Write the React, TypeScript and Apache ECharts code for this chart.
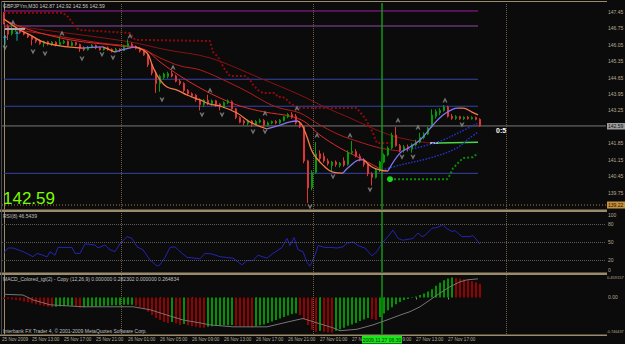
import React, { useEffect, useRef } from "react";
import * as echarts from "echarts";

// ---------------- data ----------------
const SLOT_COUNT = 151; // bar slots on the time axis (120 bars + empty right margin)
const LAST_BAR = 118.5;

// [open, close, low, high] — GBPJPYm M30
const candles: number[][] = [
  [147.38, 146.98, 146.92, 147.45], [146.85, 146.50, 146.25, 146.92], [146.52, 146.70, 146.45, 146.88], [146.68, 146.76, 146.60, 146.82],
  [146.75, 146.58, 146.52, 146.78], [146.60, 146.50, 146.45, 146.66], [146.50, 146.38, 146.33, 146.55], [146.40, 146.28, 146.02, 146.45],
  [146.28, 146.20, 146.12, 146.33], [146.22, 146.10, 146.05, 146.28], [146.10, 146.18, 145.95, 146.22], [146.18, 146.08, 146.02, 146.22],
  [146.06, 146.16, 146.00, 146.20], [146.16, 146.05, 145.98, 146.20], [146.05, 146.15, 146.00, 146.38], [146.14, 146.20, 146.08, 146.26],
  [146.20, 146.02, 145.96, 146.24], [146.02, 146.14, 145.98, 146.20], [146.14, 146.06, 146.00, 146.18], [146.06, 145.90, 145.75, 146.10],
  [145.92, 145.84, 145.78, 145.98], [145.84, 145.95, 145.80, 146.00], [145.95, 146.02, 145.90, 146.08], [146.02, 145.92, 145.86, 146.06],
  [145.92, 145.84, 145.80, 145.97], [145.84, 145.92, 145.80, 145.96], [145.92, 145.85, 145.80, 145.98], [145.85, 145.78, 145.72, 145.90],
  [145.78, 145.86, 145.74, 145.92], [145.86, 145.80, 145.74, 145.90], [145.80, 145.98, 145.78, 146.05], [145.98, 146.10, 145.94, 146.28],
  [146.08, 145.98, 145.92, 146.15], [145.98, 145.90, 145.85, 146.02], [145.90, 145.78, 145.72, 145.95], [145.78, 145.62, 145.58, 145.82],
  [145.62, 145.20, 145.10, 145.66], [145.20, 144.85, 144.75, 145.25], [144.85, 144.40, 144.00, 144.95], [144.40, 144.70, 144.05, 144.78],
  [144.66, 144.80, 144.58, 144.86], [144.70, 144.82, 144.62, 144.90], [144.82, 144.72, 144.66, 144.95], [144.72, 144.50, 144.45, 144.78],
  [144.50, 144.40, 144.32, 144.58], [144.40, 144.10, 144.02, 144.45], [144.10, 143.96, 143.88, 144.16], [143.96, 143.88, 143.80, 144.02],
  [143.90, 143.70, 143.62, 143.95], [143.70, 143.50, 143.25, 143.76], [143.50, 143.68, 143.40, 143.74], [143.68, 143.55, 143.48, 143.92],
  [143.55, 143.66, 143.45, 143.72], [143.66, 143.52, 143.40, 143.70], [143.52, 143.40, 143.25, 143.56], [143.40, 143.58, 143.35, 143.64],
  [143.58, 143.66, 143.52, 143.72], [143.62, 143.32, 143.28, 143.68], [143.32, 142.95, 142.88, 143.36], [142.95, 142.75, 142.70, 143.00],
  [142.80, 142.72, 142.62, 142.86], [142.70, 142.80, 142.60, 142.86], [142.80, 142.66, 142.55, 142.84], [142.66, 142.78, 142.60, 142.84],
  [142.76, 142.82, 142.70, 142.90], [142.82, 142.62, 142.55, 142.88], [142.62, 142.72, 142.56, 142.78], [142.72, 142.78, 142.66, 142.82],
  [142.78, 142.72, 142.66, 142.84], [142.72, 142.84, 142.68, 142.88], [142.82, 142.98, 142.78, 143.02], [142.98, 143.08, 142.92, 143.14],
  [143.08, 142.96, 142.90, 143.18], [143.00, 142.72, 142.65, 143.10], [142.72, 142.55, 142.50, 142.80], [142.55, 141.10, 141.00, 142.60],
  [141.10, 139.95, 139.30, 141.15], [139.95, 140.60, 139.85, 140.70], [140.60, 141.40, 140.55, 141.90], [141.40, 141.20, 141.10, 141.55],
  [141.30, 141.10, 141.02, 141.45], [141.10, 140.98, 140.90, 141.20], [140.90, 141.05, 140.65, 141.10], [141.05, 140.95, 140.85, 141.12],
  [140.90, 141.00, 140.82, 141.05], [141.10, 140.92, 140.85, 141.25], [140.95, 141.45, 140.90, 141.55], [141.45, 141.50, 141.38, 141.95],
  [141.50, 141.30, 141.25, 141.60], [141.30, 141.15, 141.08, 141.40], [141.15, 140.95, 140.85, 141.22], [140.95, 140.55, 140.45, 141.00],
  [140.55, 140.40, 140.05, 140.62], [140.40, 140.70, 140.35, 140.78], [140.70, 141.05, 140.62, 141.10], [141.05, 141.35, 141.00, 141.42],
  [141.35, 141.65, 141.30, 141.72], [141.65, 142.20, 141.60, 142.30], [142.20, 141.75, 141.70, 142.55], [141.75, 141.55, 141.48, 141.82],
  [141.55, 141.70, 141.45, 141.78], [141.70, 141.62, 141.50, 141.80], [141.62, 141.78, 141.45, 141.85], [141.78, 141.90, 141.72, 142.00],
  [141.90, 142.10, 141.85, 142.30], [142.10, 142.25, 142.02, 142.32], [142.25, 142.50, 142.20, 142.55], [142.55, 143.05, 142.50, 143.30],
  [143.00, 143.20, 142.90, 143.30], [143.15, 143.25, 143.05, 143.35], [143.25, 143.40, 143.20, 143.48], [143.40, 143.00, 142.95, 143.45],
  [143.00, 142.92, 142.85, 143.10], [142.92, 142.98, 142.85, 143.05], [142.98, 142.90, 142.85, 143.02], [142.90, 142.96, 142.84, 143.00],
  [142.96, 142.90, 142.86, 143.02], [142.90, 142.95, 142.86, 143.00], [142.95, 142.87, 142.83, 142.99], [142.87, 142.59, 142.56, 142.92],
];

const priceTicks = [139.75, 140.45, 141.15, 141.85, 142.55, 143.25, 143.95, 144.65, 145.35, 146.05, 146.75, 147.45];
const rsiTicks = [20, 50, 80];
const rsiLevels = [20, 50, 80];
const macdTicks = [0];
const firstTimeLabel = "25 Nov 2009";
const timeLabels: [number, string][] = [
  [7, "25 Nov 13:00"], [15, "25 Nov 17:00"], [23, "25 Nov 21:00"],
  [31, "26 Nov 01:00"], [39, "26 Nov 05:00"], [47, "26 Nov 09:00"], [55, "26 Nov 13:00"],
  [63, "26 Nov 17:00"], [71, "26 Nov 21:00"], [79, "27 Nov 01:00"], [87, "27 Nov 05:00"],
  [95, "27 Nov 09:00"], [103, "27 Nov 13:00"], [111, "27 Nov 17:00"],
];

const bidPrice = 142.59;
const dottedLevel = 139.22;
const levelPrices = [147.49, 146.85, 144.58, 143.43, 140.57];
const daySeparators = [29.25, 77.25, 125.5];
const markedBar = 94.5;

// colored fast MA (HMA) — segments by direction
const hmaSegments: { dir: "down" | "up"; pts: number[][] }[] = [
  { dir: "down", pts: [[0, 147.15], [4, 146.68], [6.5, 146.47], [9.75, 146.17], [14, 146.0], [19.75, 145.91]] },
  { dir: "up", pts: [[19.75, 145.91], [22, 145.94], [24.75, 145.96]] },
  { dir: "down", pts: [[24.75, 145.96], [27.75, 145.74]] },
  { dir: "up", pts: [[27.75, 145.74], [30, 145.85], [32.75, 145.96]] },
  { dir: "down", pts: [[32.75, 145.96], [35.75, 145.7], [37.25, 145.1], [39, 144.55], [40.75, 144.25], [43.25, 144.12], [45.75, 143.91], [49, 143.7], [51.5, 143.52], [54, 143.44], [58.25, 143.14], [61.5, 142.76], [65.75, 142.46]] },
  { dir: "up", pts: [[65.75, 142.46], [69, 142.63], [71.5, 142.76], [73.5, 142.8]] },
  { dir: "down", pts: [[73.5, 142.8], [74.5, 142.63], [75.75, 142.12], [77.25, 141.43], [79.75, 140.92], [82.25, 140.62], [84.75, 140.58]] },
  { dir: "up", pts: [[84.75, 140.58], [86.5, 140.88], [89, 141.14], [90, 141.14]] },
  { dir: "down", pts: [[90, 141.14], [92, 140.84], [94, 140.71], [96, 140.67]] },
  { dir: "up", pts: [[96, 140.67], [99, 141.43], [101.5, 141.69], [104, 141.99], [107.25, 142.63], [109.75, 143.06], [112.25, 143.31], [113.5, 143.35]] },
  { dir: "down", pts: [[113.5, 143.35], [114.75, 143.35], [117, 143.18], [118.5, 143.06]] },
];

const maSlow = [[0, 146.9], [15.75, 146.55], [31.5, 146.17], [40.75, 145.83], [51.5, 145.49], [64, 144.63], [74, 143.91], [80.75, 143.35], [86.5, 142.93], [91.5, 142.54], [96.5, 142.2], [101.5, 141.99], [106.5, 141.86]];
const maSlowFlat = [[106.5, 141.86], [108.5, 141.86]];
const maSlowUp = [[108.5, 141.86], [118.5, 141.9]];
const maMid = [[0, 146.77], [11.5, 146.47], [24, 146.13], [34, 145.91], [39, 145.49], [44, 145.15], [49, 144.98], [56.5, 144.42], [61.5, 143.99], [65.75, 143.57], [69, 143.35], [74, 143.14], [79, 142.63], [84, 142.2], [89, 141.9], [94, 141.65], [99, 141.52]];
const maMidUp = [[99, 141.52], [104, 141.69], [109.75, 141.99], [114, 142.33], [118.5, 142.71]];
const maFast = [[0, 147.11], [6.5, 146.68], [16.5, 146.26], [29, 146.0], [35.25, 145.83], [39, 145.32], [44, 144.72], [49, 144.21], [54, 143.78], [59, 143.44], [65.25, 143.18], [71.5, 143.01], [75.25, 142.76], [79, 142.2], [84, 141.65], [89, 141.22], [92.75, 140.88], [94.5, 140.71]];
const maFastUp = [[94.5, 140.71], [99, 140.92], [107.25, 141.26], [113.25, 141.65], [115.75, 141.99], [118.5, 142.33]];

const redStop = [[0, 147.41], [14.75, 147.41], [16, 147.24], [17, 147.02], [18, 146.77], [19, 146.68], [31.5, 146.55], [32.75, 146.26], [51.5, 146.21], [52.25, 145.74], [53.5, 145.53], [55.25, 144.98], [56.5, 144.72], [60.25, 144.72], [61.5, 144.55], [62.25, 144.34], [63.5, 144.12], [64.75, 143.99], [67.75, 143.99], [68.5, 143.82], [69.75, 143.82], [70.75, 143.7], [71.5, 143.57], [73.25, 143.35], [88.25, 143.35], [89, 143.18], [90.25, 142.93], [91.5, 142.54], [92.25, 142.29], [93.25, 141.86], [97.25, 141.86]];
const greenStop = [[96.5, 140.32], [110.75, 140.32], [111.5, 140.5], [112.25, 140.79], [113.5, 141.01], [114.75, 141.22], [117.25, 141.26], [118.5, 141.43]];
const greenStopStart = [[96.5, 140.32]];

const fractalUp = [[2.25, 147.02], [14.5, 146.55], [31.5, 146.43], [42.25, 145.1], [51.5, 144.12], [65.25, 143.14], [73.25, 143.35], [78.25, 142.2], [86.5, 142.2], [98.5, 142.84], [103.5, 142.54], [110.25, 143.7]];
const fractalDown = [[0.25, 145.91], [7.25, 145.74], [10.25, 145.66], [19.5, 145.44], [24.5, 145.62], [27.25, 145.49], [39.5, 143.7], [49.5, 143.06], [54.5, 143.06], [62.25, 142.33], [65.25, 142.33], [76.5, 139.13], [82.25, 140.41], [91.5, 139.86], [99.5, 141.26], [102.25, 141.26], [114.5, 142.63]];
const buyArrows = [[0.25, 146.26], [3.25, 146.43]];

const rsiPoints = [[0, 32], [1, 40], [2.25, 40], [4.75, 34], [7.25, 25.5], [8.25, 31], [9.75, 28], [10.75, 25], [11.5, 34], [12.75, 28], [13.5, 41], [17, 41], [17.75, 31], [19, 31], [20.25, 47], [22.75, 45], [23.5, 40], [25.25, 45], [26.5, 37], [27.75, 34], [29, 47], [30.75, 59], [32, 56], [33.25, 42], [34.75, 37], [36.5, 20], [38.25, 10], [39, 12], [40.25, 24.5], [41.5, 41], [42.75, 42], [44, 34], [45.75, 24.5], [49, 22], [50.25, 31], [52, 30], [54, 25.5], [57.25, 23], [59.5, 12], [60.75, 19], [62.25, 19], [63.5, 28], [65.75, 23], [67.25, 31], [69.5, 41], [70.75, 56], [71.5, 44], [72.5, 57.5], [73.5, 37], [74.75, 34], [75.75, 16], [76.5, 10], [77.75, 28], [78.5, 44], [80.25, 41], [81.5, 41], [83.25, 40], [84.75, 42], [85.75, 48], [87.25, 50], [88.5, 44], [90.25, 40], [92, 27], [93.25, 34], [94.5, 48], [96, 59], [97.25, 70], [98.5, 56], [99.75, 53], [101.5, 55], [102.25, 56], [103.5, 65], [104.5, 59], [105.25, 61], [107, 73], [108.25, 74], [109.75, 79], [110.75, 72], [112, 67.5], [112.75, 69], [114.5, 59], [116.5, 59], [117.25, 61], [119, 46.5]];

const macdHist = [
  -0.03, -0.03, -0.04, -0.05, -0.06, -0.08, -0.10, -0.12, -0.14, -0.16, -0.17, -0.19, -0.20,
  -0.19, -0.18, -0.18, -0.17, -0.17, -0.19, -0.21,
  -0.20, -0.19, -0.19, -0.18, -0.18, -0.17, -0.17, -0.16, -0.16, -0.16, -0.15, -0.15, -0.15,
  -0.17, -0.20, -0.24, -0.29, -0.36, -0.42, -0.46, -0.50, -0.52, -0.50, -0.53, -0.56, -0.54,
  -0.57, -0.59, -0.60, -0.62, -0.62, -0.60, -0.59, -0.58, -0.58, -0.57, -0.57, -0.56,
  -0.58, -0.59, -0.60, -0.60, -0.61, -0.59, -0.57, -0.55, -0.52, -0.49, -0.46, -0.43, -0.40, -0.37, -0.34, -0.32,
  -0.36, -0.45, -0.56, -0.66, -0.70, -0.68, -0.70, -0.71, -0.72,
  -0.68, -0.65, -0.62, -0.58, -0.55, -0.52, -0.48, -0.45, -0.42, -0.44, -0.46,
  -0.40, -0.33, -0.26, -0.20, -0.14, -0.09, -0.05, -0.03, -0.01, 0.02, 0.05, 0.08, 0.12,
  0.17, 0.24, 0.30, 0.35, 0.39, 0.41, 0.40, 0.38, 0.37, 0.35, 0.33, 0.31, 0.28,
];
// g = rising (green), r = falling (red)
const macdTrend =
  "rrrrrrrrrrrrr" + "ggggg" + "rr" + "ggggggggggggg" + "rrrrrrrrr" + "g" + "rr" + "g" + "rrrrr" +
  "ggggggg" + "rrrrr" + "ggggggggggg" + "rrrrr" + "g" + "rrr" + "ggggggggg" + "rr" +
  "ggggggggggggggggggg" + "rrrrrrr";
const macdSignal = [[0, 0.065], [4.75, 0.05], [7.25, -0.05], [11.5, -0.15], [19.75, -0.19], [32.25, -0.19], [36.5, -0.25], [40.75, -0.36], [44.75, -0.46], [49, -0.52], [51.5, -0.56], [57.25, -0.6], [65.75, -0.6], [71.5, -0.49], [74.75, -0.43], [78.25, -0.52], [82.25, -0.62], [84, -0.68], [88.25, -0.65], [92.25, -0.56], [95.75, -0.46], [99, -0.36], [101.5, -0.29], [104, -0.19], [106.5, -0.05], [109, 0.09], [111.5, 0.22], [114, 0.32], [115.75, 0.36], [118.5, 0.38]];

// ---------------- style ----------------
const FONT = "Liberation Sans";
const BG = "#0b0b0b";
const AXIS_TEXT = "#b8aa92";
const FRAME = "#9a8b6c";
const UP = "#00a000";
const DOWN = "#e03535";
const levelColors = ["#a31aa3", "#8e4aa8", "#3444a8", "#3444a8", "#3444a8"];
const TIME_FONT = 4.6;

const UP_ARROW = "path://M3,0 L6,6 L4.2,6 L3,3.8 L1.8,6 L0,6 Z";
const DOWN_ARROW = "path://M0,0 L1.8,0 L3,2.2 L4.2,0 L6,0 L3,6 Z";
const BUY_ARROW = "path://M2,0 L4,3 L2.5,3 L2.5,10 L1.5,10 L1.5,3 L0,3 Z";

function buildOption() {
  const slots = Array.from({ length: SLOT_COUNT }, (_, i) => String(i));
  const labelMap = new Map<number, string>(timeLabels);

  const line = (data: number[][], color: string, width = 1, type: any = "solid", smooth: any = 0.35, z = 3) => ({
    type: "line", xAxisIndex: 1, yAxisIndex: 0, data, showSymbol: false, symbol: "none",
    smooth, silent: true, z, lineStyle: { color, width, type },
  });

  const vMarks = (extra: any[] = []) => ({
    silent: true, symbol: ["none", "none"], label: { show: false },
    data: [
      ...daySeparators.map((x) => ({ xAxis: x, lineStyle: { color: "#6e5c44", type: "dotted", width: 1 } })),
      { xAxis: markedBar, lineStyle: { color: "#139a13", type: "solid", width: 1.5 } },
      ...extra,
    ],
  });

  const series: any[] = [];

  levelPrices.forEach((p, k) => series.push({ ...line([[0, p], [LAST_BAR, p]], levelColors[k], 1, "solid", false, 1) }));
  series.push({ ...line([[-0.5, bidPrice], [SLOT_COUNT - 0.5, bidPrice]], "#7a7a7a", 1, "solid", false, 1), markLine: vMarks() });
  series.push(line([[-0.5, dottedLevel], [SLOT_COUNT - 0.5, dottedLevel]], "#a8783a", 1, [1, 2], false, 1));

  series.push(line(maSlow, "#8a1212", 1));
  series.push(line(maSlowFlat, "#e8e8e8", 1.5, "solid", false));
  series.push(line(maSlowUp, "#48d848", 1.5, "solid", false));
  series.push(line(maMid, "#b41c1c", 1));
  series.push(line(maMidUp, "#2434c8", 1.5, "dotted"));
  series.push(line(maFast, "#e02a2a", 1));
  series.push(line(maFastUp, "#2434c8", 1.5, "dotted"));

  hmaSegments.forEach((s) => series.push(line(s.pts, s.dir === "down" ? "#f47a48" : "#8474f2", 1.3, "solid", 0.4, 5)));

  series.push(line(redStop, "#8e0a0a", 2, [2, 2], false, 4));
  series.push(line(greenStop, "#0a8a0a", 2, [2, 2], false, 4));
  series.push({ type: "scatter", xAxisIndex: 1, yAxisIndex: 0, data: greenStopStart, symbol: "circle", symbolSize: 6, itemStyle: { color: "#22ff22" }, silent: true, z: 6 });

  series.push({
    type: "candlestick", xAxisIndex: 0, yAxisIndex: 0, data: candles, barWidth: 2, z: 4, silent: true,
    itemStyle: { color: UP, color0: DOWN, borderColor: UP, borderColor0: DOWN, borderWidth: 1 },
  });

  series.push({ type: "scatter", xAxisIndex: 1, yAxisIndex: 0, data: fractalUp, symbol: UP_ARROW, symbolSize: [5, 5], itemStyle: { color: "#8e8e8e" }, silent: true, z: 7 });
  series.push({ type: "scatter", xAxisIndex: 1, yAxisIndex: 0, data: fractalDown, symbol: DOWN_ARROW, symbolSize: [5, 5], itemStyle: { color: "#8e8e8e" }, silent: true, z: 7 });
  series.push({ type: "scatter", xAxisIndex: 1, yAxisIndex: 0, data: buyArrows, symbol: BUY_ARROW, symbolSize: [4, 10], itemStyle: { color: "#22c8d8" }, silent: true, z: 7 });

  // RSI
  series.push({
    type: "line", xAxisIndex: 2, yAxisIndex: 1, data: rsiPoints, showSymbol: false, symbol: "none", silent: true,
    lineStyle: { color: "#2424b4", width: 1 },
    markLine: vMarks(rsiLevels.map((v) => ({ yAxis: v, lineStyle: { color: "#5a5a5a", type: "dotted", width: 1 } }))),
  });

  // MACD
  series.push({
    type: "bar", xAxisIndex: 3, yAxisIndex: 2, barWidth: 2, silent: true,
    data: macdHist.map((v, i) => ({ value: v, itemStyle: { color: macdTrend[i] === "g" ? "#009400" : "#960000" } })),
  });
  series.push({
    type: "line", xAxisIndex: 4, yAxisIndex: 2, data: macdSignal, showSymbol: false, symbol: "none", silent: true, z: 5,
    lineStyle: { color: "#767676", width: 1 },
    markLine: vMarks(),
  });

  const axisLbl = { color: AXIS_TEXT, fontSize: 5, fontFamily: FONT, margin: 2 };
  const hiddenX = (grid: number) => ({ type: "value", gridIndex: grid, min: -0.5, max: SLOT_COUNT - 0.5, show: false });

  const T = (x: number, y: number, text: string, fill: string, size: number, extra: any = {}) => ({
    type: "text", x, y, silent: true, z: 100,
    style: { text, fill, fontSize: size, fontFamily: FONT, align: "left", verticalAlign: "top", ...extra },
  });
  const R = (x: number, y: number, w: number, h: number, fill: string) => ({
    type: "rect", silent: true, z: 90, shape: { x, y, width: w, height: h }, style: { fill },
  });

  return {
    animation: false,
    backgroundColor: BG,
    grid: [
      { left: 2, top: 3, width: 604, height: 206, containLabel: false, outerBoundsMode: "none" },
      { left: 2, top: 212, width: 604, height: 60, containLabel: false, outerBoundsMode: "none" },
      { left: 2, top: 275, width: 604, height: 59, containLabel: false, outerBoundsMode: "none" },
    ],
    xAxis: [
      { type: "category", gridIndex: 0, data: slots, show: false, boundaryGap: true },
      hiddenX(0),
      hiddenX(1),
      {
        type: "category", gridIndex: 2, data: slots, boundaryGap: true,
        axisLine: { show: false },
        axisTick: { show: true, alignWithLabel: true, length: 2, interval: (i: number) => i === 0 || labelMap.has(i), lineStyle: { color: FRAME } },
        axisLabel: {
          ...axisLbl, fontSize: TIME_FONT, margin: 3, align: "left", showMinLabel: true, showMaxLabel: true, hideOverlap: false,
          interval: (i: number) => labelMap.has(i),
          formatter: (_v: string, i: number) => labelMap.get(i) ?? "",
        },
      },
      hiddenX(2),
    ],
    yAxis: [
      {
        type: "value", gridIndex: 0, position: "right", min: 139.05, max: 147.83, splitLine: { show: false },
        axisLine: { show: true, lineStyle: { color: FRAME } }, axisTick: { show: false },
        axisLabel: { ...axisLbl, customValues: priceTicks, formatter: (v: number) => v.toFixed(2) },
      },
      {
        type: "value", gridIndex: 1, position: "right", min: 0, max: 100, splitLine: { show: false },
        axisLine: { show: true, lineStyle: { color: FRAME } }, axisTick: { show: false },
        axisLabel: { ...axisLbl, customValues: rsiTicks, formatter: (v: number) => String(v) },
      },
      {
        type: "value", gridIndex: 2, position: "right", min: -0.746437, max: 0.459157, splitLine: { show: false },
        axisLine: { show: true, lineStyle: { color: FRAME } }, axisTick: { show: false },
        axisLabel: { ...axisLbl, customValues: macdTicks, formatter: (v: number) => v.toFixed(2) },
      },
    ],
    series,
    graphic: [
      R(2, 1, 605, 1, FRAME),
      R(0, 209.5, 607, 2.5, FRAME),
      R(0, 272.5, 607, 2.5, FRAME),
      R(0, 334.5, 607, 1.5, FRAME),
      R(1, 1, 1, 334, "#4a4a4a"),
      R(5, 28, 20, 2, "#a8a8a8"),
      T(3, 3, "GBPJPYm,M30 142.87 142.92 142.56 142.59", "#c8c8c8", 5),
      T(3, 213.5, "RSI(8) 46.5439", "#c0c0c0", 5),
      T(3, 276, "MACD_Colored_tgt(2) - Copy (12,26,9) 0.000000 0.282302 0.000000 0.264834", "#c0c0c0", 5),
      T(3, 328.5, "Interbank FX Trader 4, \u00a9 2001-2009 MetaQuotes Software Corp.", "#c0c0c0", 5),
      T(2, 337.3, firstTimeLabel, AXIS_TEXT, TIME_FONT),
      T(3, 190, "142.59", "#7cfc00", 17),
      T(496, 126.5, "0:5", "#ffffff", 7, { fontWeight: "bold" }),
      T(608, 212.5, "100", AXIS_TEXT, 5),
      T(608, 267.5, "0", AXIS_TEXT, 5),
      T(607, 275, "0.459157", AXIS_TEXT, 4),
      T(606.5, 330, "-0.746437", AXIS_TEXT, 3.8),
      R(607, 123, 18, 6.5, "#9c9c9c"),
      T(608, 123.3, "142.59", "#111111", 5),
      R(607, 201.5, 18, 7, "#c8923c"),
      T(608, 202.3, "139.22", "#111111", 5),
      R(362, 335.5, 40, 8, "#19e619"),
      T(382, 337, "2009.11.27 06:30", "#003300", 5, { align: "center" }),
    ],
  };
}

export default function App() {
  const ref = useRef<HTMLDivElement>(null);
  useEffect(() => {
    const chart = echarts.init(ref.current!, undefined, { renderer: "svg" });
    chart.setOption(buildOption() as any);
    return () => chart.dispose();
  }, []);
  return <div ref={ref} style={{ position: "fixed", left: 0, top: 0, width: 625, height: 344, background: BG }} />;
}
